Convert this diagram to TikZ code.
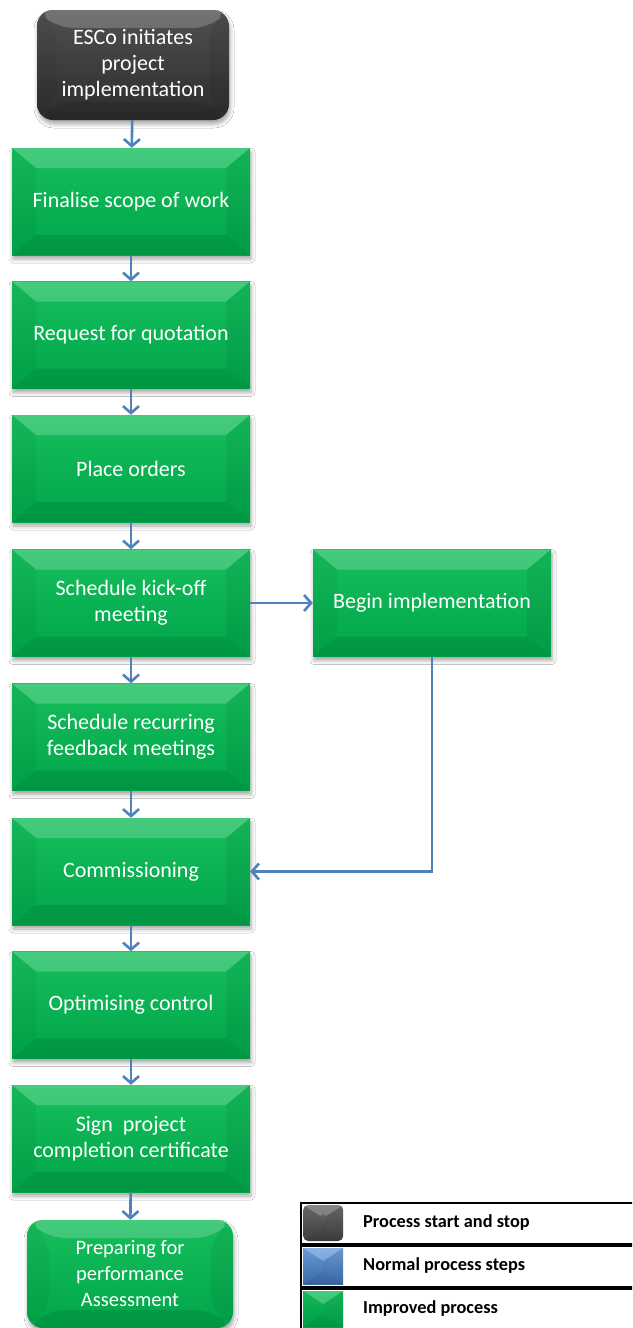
\documentclass[tikz,border=0pt]{standalone}
\usepackage{fontspec}
\setmainfont{Carlito}
\usetikzlibrary{arrows.meta,shadows.blur}

\definecolor{gtopc}{RGB}{22,190,92}
\definecolor{gbotc}{RGB}{0,166,74}
\definecolor{ktopc}{RGB}{80,80,80}
\definecolor{kbotc}{RGB}{44,44,44}
\definecolor{btopc}{RGB}{110,160,220}
\definecolor{bbotc}{RGB}{60,110,175}
\definecolor{arrowblue}{RGB}{79,129,189}

\tikzset{
  % bevelled face: light top band, dark bottom band, shaded sides
  bevel/.style 2 args={path picture={
    \path (path picture bounding box.north west) coordinate (bvnw)
          (path picture bounding box.north east) coordinate (bvne)
          (path picture bounding box.south west) coordinate (bvsw)
          (path picture bounding box.south east) coordinate (bvse);
    \fill[white,opacity=.20] (bvnw) -- (bvne) -- ([shift={(-#1,-#2)}]bvne) -- ([shift={(#1,-#2)}]bvnw) -- cycle;
    \fill[black,opacity=.09] (bvsw) -- (bvse) -- ([shift={(-#1,#2)}]bvse) -- ([shift={(#1,#2)}]bvsw) -- cycle;
    \fill[black,opacity=.04] (bvnw) -- ([shift={(#1,-#2)}]bvnw) -- ([shift={(#1,#2)}]bvsw) -- (bvsw) -- cycle;
    \fill[black,opacity=.06] (bvne) -- ([shift={(-#1,-#2)}]bvne) -- ([shift={(-#1,#2)}]bvse) -- (bvse) -- cycle;
  }},
  softshadow/.style={blur shadow={shadow xshift=1pt, shadow yshift=-4pt,
      shadow blur radius=4pt, shadow opacity=35}},
  greenbox/.style={rectangle, minimum width=238pt, minimum height=107pt,
      inner sep=2pt, align=center, text=white,
      font=\fontsize{22}{26}\selectfont,
      top color=gtopc, bottom color=gbotc, bevel={24pt}{20pt}, softshadow},
  termbox/.style={rectangle, rounded corners=16pt, inner sep=2pt,
      align=center, text=white, font=\fontsize{22}{26}\selectfont, softshadow},
  arr/.style={draw=arrowblue, line width=2.6pt,
      -{Straight Barb[length=7pt,width=16pt]}},
  legrow/.style={rectangle, draw=black, line width=2pt, minimum width=345pt,
      minimum height=41pt, anchor=west, inner sep=0pt, fill=white},
  legicon/.style={rectangle, minimum width=40pt, minimum height=36pt,
      anchor=west, inner sep=0pt, bevel={20pt}{13pt}},
  legtext/.style={anchor=west, inner sep=0pt,
      font=\fontsize{18.3}{21}\selectfont\bfseries, text=black},
}

\begin{document}
\begin{tikzpicture}[x=1pt, y=-1pt]
\useasboundingbox (0,0) rectangle (632,1328);
\clip (0,0) rectangle (632,1328);
\fill[white] (0,0) rectangle (632,1328);

% start node
\node[termbox, minimum width=192pt, minimum height=110pt,
      top color=ktopc, bottom color=kbotc, bevel={20pt}{18pt}]
  (start) at (133,65) {ESCo initiates\\project\\implementation};

% main column of improved steps
\node[greenbox] (s1) at (131,201.5) {Finalise scope of work};
\node[greenbox] (s2) at (131,335)   {Request for quotation};
\node[greenbox] (s3) at (131,468.5) {Place orders};
\node[greenbox] (s4) at (131,603)   {Schedule kick-off\\meeting};
\node[greenbox] (s5) at (131,737)   {Schedule recurring\\feedback meetings};
\node[greenbox] (s6) at (131,871.5) {Commissioning};
\node[greenbox] (s7) at (131,1005)  {Optimising control};
\node[greenbox] (s8) at (131,1138.5){Sign~ project\\completion certificate};

% side branch
\node[greenbox] (bi) at (432,603) {Begin implementation};

% end node
\node[termbox, minimum width=206pt, minimum height=108pt,
      top color=gtopc, bottom color=gbotc, bevel={22pt}{18pt},
      font=\fontsize{20.5}{26}\selectfont]
  (fin) at (130,1274) {Preparing for\\performance\\Assessment};

% connectors
\draw[arr] (start) -- (s1);
\draw[arr] (s1) -- (s2);
\draw[arr] (s2) -- (s3);
\draw[arr] (s3) -- (s4);
\draw[arr] (s4) -- (s5);
\draw[arr] (s5) -- (s6);
\draw[arr] (s6) -- (s7);
\draw[arr] (s7) -- (s8);
\draw[arr] (s8) -- (fin);
\draw[arr] (s4) -- (bi);
\draw[arr] (bi.south) |- (s6.east);

% legend
\node[legrow] (r1) at (300,1223) {};
\node[legrow] (r2) at (300,1266) {};
\node[legrow] (r3) at (300,1309) {};
\node[legicon, rounded corners=5pt, top color=ktopc!85!white, bottom color=kbotc!90!white]
  (i1) at ([xshift=3pt]r1.west) {};
\node[legicon, top color=btopc, bottom color=bbotc] (i2) at ([xshift=3pt]r2.west) {};
\node[legicon, top color=gtopc, bottom color=gbotc] (i3) at ([xshift=3pt]r3.west) {};
\node[legtext] (t1) at (363,1223) {Process start and stop};
\node[legtext] (t2) at (363,1266) {Normal process steps};
\node[legtext] (t3) at (363,1309) {Improved process};
\end{tikzpicture}
\end{document}
